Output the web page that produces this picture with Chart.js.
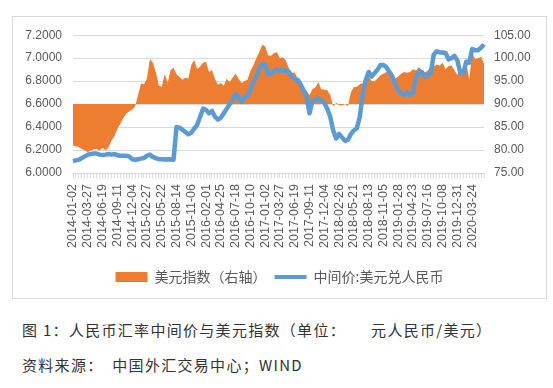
<!DOCTYPE html>
<html>
<head>
<meta charset="utf-8">
<script src="https://cdn.jsdelivr.net/npm/chart.js@4.4.0/dist/chart.umd.min.js"></script>
<style>
  body { margin: 0; background: #fff; width: 553px; height: 388px; position: relative; overflow: hidden; font-family: "Noto Sans CJK SC", sans-serif; }
  #caixa { position: absolute; left: 12px; top: 16px; width: 533px; height: 281px; border: 1px solid #d9d9d9; }
  #caixa canvas { display: block; }
  .legenda { position: absolute; left: 22px; margin: 0; font-size: 15px; letter-spacing: 1.3px; color: #333; white-space: nowrap; line-height: 1; }
</style>
</head>
<body>
<div id="caixa"><canvas id="grafico" width="533" height="281"></canvas></div>
<p class="legenda" style="top:322px">图 1：人民币汇率中间价与美元指数（单位：　　元人民币/美元）</p>
<p class="legenda" style="top:357px">资料来源：　中国外汇交易中心；WIND</p>
<script>
// Datas mostradas no eixo x (uma a cada 5 pontos)
const rotulosEixo = [
  "2014-01-02", "2014-03-27", "2014-06-19", "2014-09-11", "2014-12-04",
  "2015-02-27", "2015-05-22", "2015-08-14", "2015-11-06", "2016-02-01",
  "2016-04-25", "2016-07-18", "2016-10-10", "2017-01-02", "2017-03-27",
  "2017-06-19", "2017-09-11", "2017-12-04", "2018-02-26", "2018-05-21",
  "2018-08-13", "2018-11-05", "2019-01-28", "2019-04-23", "2019-07-16",
  "2019-10-08", "2019-12-31", "2020-03-24"
];
const pontosPorRotulo = 5;

// 中间价:美元兑人民币 (eixo esquerdo)
const usdcny = [
  6.104, 6.110, 6.116, 6.130, 6.145, 6.160, 6.165, 6.170, 6.170, 6.160,
  6.156, 6.160, 6.165, 6.160, 6.165, 6.155, 6.150, 6.150, 6.150, 6.145,
  6.120, 6.115, 6.120, 6.125, 6.130, 6.150, 6.160, 6.140, 6.130, 6.120,
  6.120, 6.118, 6.120, 6.118, 6.116, 6.400, 6.395, 6.377, 6.357, 6.337,
  6.350, 6.386, 6.420, 6.490, 6.560, 6.550, 6.520, 6.540, 6.490, 6.465,
  6.480, 6.520, 6.560, 6.600, 6.630, 6.690, 6.660, 6.620, 6.660, 6.670,
  6.720, 6.790, 6.840, 6.910, 6.950, 6.940, 6.860, 6.865, 6.890, 6.900,
  6.890, 6.895, 6.890, 6.880, 6.840, 6.820, 6.810, 6.770, 6.720, 6.660,
  6.520, 6.630, 6.635, 6.650, 6.635, 6.610, 6.560, 6.490, 6.370, 6.300,
  6.340, 6.310, 6.280, 6.290, 6.340, 6.370, 6.390, 6.490, 6.690, 6.810,
  6.880, 6.840, 6.870, 6.900, 6.940, 6.940, 6.920, 6.880, 6.840, 6.770,
  6.720, 6.690, 6.680, 6.700, 6.680, 6.700, 6.830, 6.880, 6.880, 6.840,
  6.850, 6.870, 7.030, 7.060, 7.050, 7.050, 7.045, 6.990, 7.000, 7.020,
  6.980, 6.870, 6.870, 6.970, 6.960, 7.080, 7.070, 7.070, 7.090, 7.120
];

// 美元指数 (eixo direito)
const dxy = [
  81.0, 80.8, 80.6, 80.2, 79.9, 79.5, 79.9, 80.1, 80.2, 79.9,
  80.5, 79.9, 80.6, 82.0, 83.0, 84.6, 85.7, 87.0, 87.9, 88.4,
  88.8, 89.5, 91.9, 94.5, 94.3, 95.5, 99.8, 99.0, 97.0, 94.1,
  93.7, 96.6, 94.6, 97.4, 97.9, 96.5, 95.9, 95.3, 95.8, 95.5,
  98.5, 99.6, 97.6, 98.2, 99.0, 99.2, 97.0, 97.4, 95.5, 94.2,
  94.6, 94.0, 95.5, 94.8, 95.8, 96.6, 95.5, 94.6, 95.0, 95.3,
  97.2, 98.4, 100.0, 101.3, 102.9, 102.6, 100.6, 100.5, 101.1, 101.3,
  100.0, 100.2, 99.5, 97.8, 96.8, 96.9, 95.6, 94.2, 93.3, 92.9,
  91.9, 93.3, 93.6, 94.8, 93.2, 93.2, 93.0, 92.0, 89.5, 90.3,
  89.8, 89.7, 90.0, 89.6, 92.6, 93.7, 93.8, 94.3, 94.6, 94.5,
  96.2, 95.0, 95.0, 95.6, 96.3, 96.6, 97.0, 97.1, 96.9, 95.6,
  96.0, 96.6, 97.0, 96.8, 97.0, 97.6, 97.3, 98.0, 97.4, 96.9,
  97.3, 98.3, 98.2, 98.6, 98.4, 99.0, 97.6, 98.3, 98.4, 97.3,
  96.4, 97.3, 97.8, 99.4, 95.3, 101.2, 99.8, 100.0, 100.3, 98.8
];

// Categorias: só os pontos com rótulo recebem a data
const categorias = usdcny.map((_, i) =>
  i % pontosPorRotulo === 0 && rotulosEixo[i / pontosPorRotulo] ? rotulosEixo[i / pontosPorRotulo] : "");

const corCinza = "#595959";
const corGrade = "#d9d9d9";
const fonteNum = "'Liberation Sans', Arial, sans-serif";
const fonteCjk = "'Noto Sans CJK SC', sans-serif";

const ctx = document.getElementById("grafico").getContext("2d");
new Chart(ctx, {
  type: "line",
  data: {
    labels: categorias,
    datasets: [
      {
        label: "中间价:美元兑人民币",
        data: usdcny,
        yAxisID: "y",
        borderColor: "#5B9BD5",
        backgroundColor: "#5B9BD5",
        borderWidth: 4.5,
        borderJoinStyle: "round",
        pointRadius: 0,
        pointStyle: "line",
        pointBorderColor: "#5B9BD5",
        pointBorderWidth: 4,
        fill: false,
        tension: 0
      },
      {
        label: "美元指数（右轴）",
        data: dxy,
        yAxisID: "y1",
        borderColor: "#ED7D31",
        backgroundColor: "#ED7D31",
        borderWidth: 0,
        pointRadius: 0,
        pointStyle: "rect",
        pointBackgroundColor: "#ED7D31",
        pointBorderWidth: 0,
        fill: { value: 90 },
        tension: 0
      }
    ]
  },
  options: {
    responsive: false,
    animation: false,
    devicePixelRatio: 1,
    layout: { padding: { top: 16, left: 0, right: 0, bottom: 4 } },
    plugins: {
      tooltip: { enabled: false },
      legend: {
        position: "bottom",
        reverse: true,
        labels: {
          usePointStyle: true,
          pointStyleWidth: 32,
          boxHeight: 10,
          padding: 8,
          color: corCinza,
          font: { size: 14, family: fonteCjk }
        }
      }
    },
    scales: {
      x: {
        offset: false,
        grid: { display: true, drawOnChartArea: false, drawTicks: true, tickLength: 5, color: corGrade },
        border: { display: true, color: corGrade },
        ticks: {
          autoSkip: false,
          minRotation: 90,
          maxRotation: 90,
          padding: 6,
          color: corCinza,
          font: { size: 12.5, family: fonteNum }
        },
        afterFit: (escala) => { escala.height = 89; }
      },
      y: {
        position: "left",
        min: 6,
        max: 7.2,
        ticks: {
          stepSize: 0.2,
          padding: 11,
          color: corCinza,
          font: { size: 12, family: fonteNum },
          callback: (v) => v.toFixed(4)
        },
        grid: { color: corGrade, drawTicks: false },
        border: { display: false },
        afterFit: (escala) => { escala.width = 60; }
      },
      y1: {
        position: "right",
        min: 75,
        max: 105,
        ticks: {
          stepSize: 5,
          padding: 10,
          color: corCinza,
          font: { size: 12, family: fonteNum },
          callback: (v) => v.toFixed(2)
        },
        grid: { drawOnChartArea: false, drawTicks: false },
        border: { display: false },
        afterFit: (escala) => { escala.width = 62; }
      }
    }
  }
});
</script>
</body>
</html>
